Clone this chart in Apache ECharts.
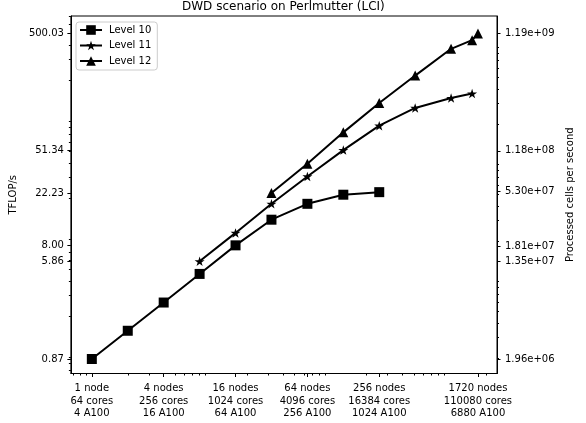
<!DOCTYPE html>
<html><head><meta charset="utf-8">
<script src="https://cdn.jsdelivr.net/npm/echarts@6/dist/echarts.min.js"></script>
<style>html,body{margin:0;padding:0;background:#fff}#c{width:586px;height:423px}</style>
</head><body><div id="c"></div>
<script>
const nodes10 = [1, 2, 4, 8, 16, 32, 64, 128, 256];
const level10 = [0.87, 1.51, 2.62, 4.58, 8.00, 13.2, 18.0, 21.5, 22.6];
const nodes11 = [8, 16, 32, 64, 128, 256, 512, 1024, 1536];
const level11 = [5.86, 10.2, 18.0, 30.7, 51.34, 82.8, 117, 142, 155];
const nodes12 = [32, 64, 128, 256, 512, 1024, 1536, 1720];
const level12 = [22.23, 39.4, 72.6, 129, 220, 371, 439, 500.03];
const seriesNames = ['Level 10', 'Level 11', 'Level 12'];
const xTickValues = [1, 4, 16, 64, 256, 1720];
const xTickLabels = ['1 node\n64 cores\n4 A100', '4 nodes\n256 cores\n16 A100', '16 nodes\n1024 cores\n64 A100',
  '64 nodes\n4096 cores\n256 A100', '256 nodes\n16384 cores\n1024 A100', '1720 nodes\n110080 cores\n6880 A100'];
const yTickValues = [0.87, 5.86, 8.00, 22.23, 51.34, 500.03];
const yTickLabels = ['0.87', '5.86', '8.00', '22.23', '51.34', '500.03'];
const cellTickValues = [1.96e6, 1.35e7, 1.81e7, 5.30e7, 1.18e8, 1.19e9];
const cellTickLabels = ['1.96e+06', '1.35e+07', '1.81e+07', '5.30e+07', '1.18e+08', '1.19e+09'];
// axis limits
const xLim = [0.6676, 2483];
const yLim = [0.6556, 703.9];
const cLim = [1.4735e6, 1.680e9];

const FONT = 'DejaVu Sans';
function minorTicks(lim, majors) {
  const out = [];
  for (let e = Math.floor(Math.log10(lim[0])) - 1; e <= Math.ceil(Math.log10(lim[1])); e++) {
    for (let m = 2; m <= 9; m++) {
      const v = parseFloat((m * Math.pow(10, e)).toPrecision(8));
      if (v < lim[0] || v > lim[1]) continue;
      if (majors.some(t => Math.abs(Math.log10(t) - Math.log10(v)) < 1e-4)) continue;
      out.push(v);
    }
  }
  return out;
}
function labeler(vals, labels) {
  return function (v) {
    for (let i = 0; i < vals.length; i++) {
      if (Math.abs(Math.log10(vals[i]) - Math.log10(v)) < 1e-4) return labels[i];
    }
    return '';
  };
}
const black = { color: '#000', width: 1 };
const labelStyle = { fontSize: 10, color: '#000', fontFamily: FONT };
const starPath = 'path://M0,-1L0.2245,-0.309L0.951,-0.309L0.363,0.118L0.588,0.809L0,0.382L-0.588,0.809L-0.363,0.118L-0.951,-0.309L-0.2245,-0.309Z';

function mkSeries(name, xs, ys, symbol, size) {
  return {
    name: name, type: 'line', xAxisIndex: 0, yAxisIndex: 0,
    data: xs.map((x, i) => [x, ys[i]]),
    symbol: symbol, symbolSize: size, showSymbol: true,
    lineStyle: { color: '#000', width: 2 },
    itemStyle: { color: '#000', borderWidth: 0 },
    emphasis: { disabled: true }, silent: true, z: 5
  };
}

const chart = echarts.init(document.getElementById('c'), null, { renderer: 'canvas' });
chart.setOption({
  animation: false,
  backgroundColor: '#fff',
  title: {
    text: 'DWD scenario on Perlmutter (LCI)', left: 182, top: 0, padding: [1, 0, 0, 0],
    textStyle: { fontSize: 12, fontWeight: 'normal', color: '#000', fontFamily: FONT }
  },
  grid: { left: 70, right: 89, top: 16, bottom: 49.5, show: true, borderColor: '#000', borderWidth: 1, backgroundColor: 'transparent' },
  legend: {
    orient: 'vertical', left: 76, top: 22, data: seriesNames,
    itemWidth: 22, itemHeight: 12, itemGap: 5.5, padding: [3, 6, 4, 3],
    backgroundColor: '#fff', borderColor: '#cccccc', borderWidth: 1, borderRadius: 3,
    textStyle: { fontSize: 10, color: '#000', fontFamily: FONT, padding: [0, 0, 0, 2] },
    selectedMode: false
  },
  xAxis: [
    {
      type: 'log', position: 'bottom', min: xLim[0], max: xLim[1],
      axisLine: { show: true, lineStyle: black },
      axisTick: { show: true, customValues: xTickValues, length: 3.5, lineStyle: black },
      axisLabel: Object.assign({ customValues: xTickValues, formatter: labeler(xTickValues, xTickLabels), margin: 9, lineHeight: 12.3, align: 'center' }, labelStyle),
      splitLine: { show: false }, minorTick: { show: false }
    },
    {
      type: 'log', position: 'bottom', min: xLim[0], max: xLim[1],
      axisLine: { show: false },
      axisTick: { show: true, customValues: minorTicks(xLim, xTickValues), length: 2, lineStyle: black },
      axisLabel: { show: false }, splitLine: { show: false }
    }
  ],
  yAxis: [
    {
      type: 'log', position: 'left', min: yLim[0], max: yLim[1],
      name: 'TFLOP/s', nameLocation: 'middle', nameGap: 47, nameRotate: 90,
      nameTextStyle: { fontSize: 10, color: '#000', fontFamily: FONT },
      axisLine: { show: true, lineStyle: black },
      axisTick: { show: true, customValues: yTickValues, length: 3.5, lineStyle: black },
      axisLabel: Object.assign({ customValues: yTickValues, formatter: labeler(yTickValues, yTickLabels), margin: 7 }, labelStyle),
      splitLine: { show: false }
    },
    {
      type: 'log', position: 'right', min: cLim[0], max: cLim[1],
      name: 'Processed cells per second', nameLocation: 'middle', nameGap: 59, nameRotate: 90,
      nameTextStyle: { fontSize: 10, color: '#000', fontFamily: FONT },
      axisLine: { show: true, lineStyle: black },
      axisTick: { show: true, customValues: cellTickValues, length: 3.5, lineStyle: black },
      axisLabel: Object.assign({ customValues: cellTickValues, formatter: labeler(cellTickValues, cellTickLabels), margin: 8 }, labelStyle),
      splitLine: { show: false }
    },
    {
      type: 'log', position: 'left', min: yLim[0], max: yLim[1],
      axisLine: { show: false },
      axisTick: { show: true, customValues: minorTicks(yLim, yTickValues), length: 2, lineStyle: black },
      axisLabel: { show: false }, splitLine: { show: false }
    },
    {
      type: 'log', position: 'right', min: cLim[0], max: cLim[1],
      axisLine: { show: false },
      axisTick: { show: true, customValues: minorTicks(cLim, cellTickValues), length: 2, lineStyle: black },
      axisLabel: { show: false }, splitLine: { show: false }
    }
  ],
  series: [
    mkSeries(seriesNames[0], nodes10, level10, 'rect', 10),
    mkSeries(seriesNames[1], nodes11, level11, starPath, [10, 9.5]),
    mkSeries(seriesNames[2], nodes12, level12, 'triangle', 10)
  ]
});
</script>
</body></html>
